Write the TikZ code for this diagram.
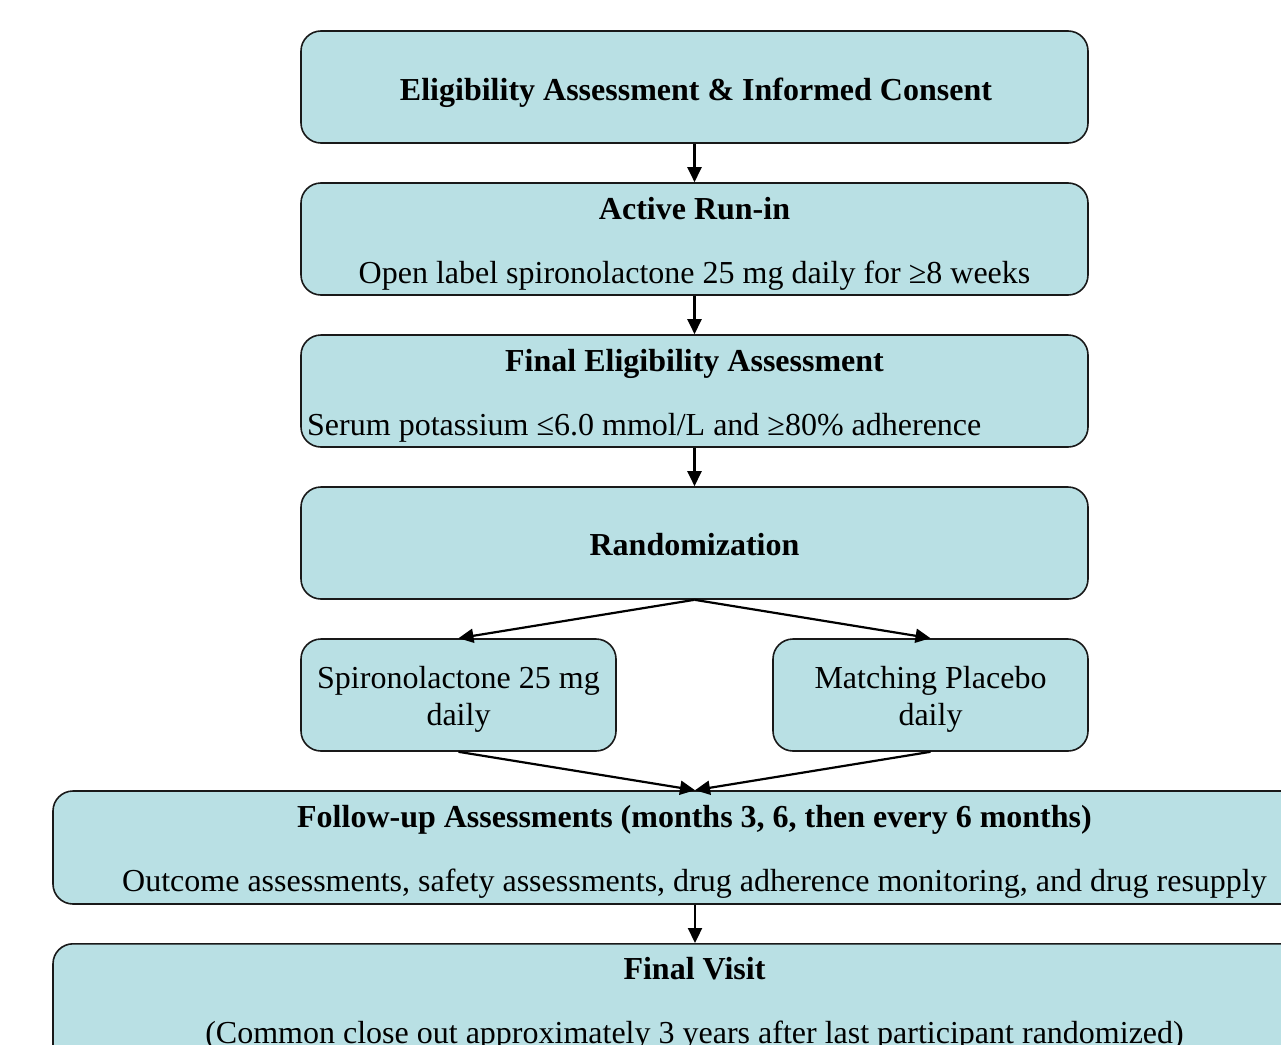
\documentclass[tikz,border=0pt]{standalone}
\usepackage{fontspec}
\setmainfont{Liberation Serif}
\usetikzlibrary{arrows.meta}
\definecolor{boxfill}{RGB}{185,224,228}
\begin{document}
\begin{tikzpicture}[x=1pt,y=1pt,
  flowbox/.style={draw=black!90, line width=1.6pt, fill=boxfill, rounded corners=20pt,
    minimum height=112pt, inner sep=0pt},
  txt/.style={anchor=base, inner sep=0pt, font=\fontsize{32pt}{37pt}\selectfont},
  btxt/.style={txt, font=\fontsize{32pt}{37pt}\selectfont\bfseries},
  arr/.style={line width=2.2pt, -{Triangle[length=15pt,width=14pt]}}]
\clip (0,0) rectangle (1281,-1044);
\fill[white] (0,0) rectangle (1281,-1044);

% boxes
\node[flowbox, minimum width=787pt] (b1) at (694.5,-87) {};
\node[flowbox, minimum width=787pt] (b2) at (694.5,-239) {};
\node[flowbox, minimum width=787pt] (b3) at (694.5,-391) {};
\node[flowbox, minimum width=787pt] (b4) at (694.5,-543) {};
\node[flowbox, minimum width=315pt] (bl) at (458.5,-695) {};
\node[flowbox, minimum width=315pt] (br) at (930.5,-695) {};
\node[flowbox, minimum width=1284pt, minimum height=113pt] (bf) at (695,-847.5) {};
\node[flowbox, minimum width=1284pt, minimum height=150pt, anchor=north] (bfin) at (695,-943) {};

% texts
\node[btxt] (t1) at (696,-100) {Eligibility Assessment \& Informed Consent};
\node[btxt] (t2a) at (694.5,-219) {Active Run-in};
\node[txt] (t2b) at (694.5,-283.5) {Open label spironolactone 25 mg daily for ≥8 weeks};
\node[btxt] (t3a) at (694.5,-371) {Final Eligibility Assessment};
\node[txt, anchor=base west] (t3b) at (307,-435.5) {Serum potassium ≤6.0 mmol/L and ≥80\% adherence};
\node[btxt] (t4) at (694.5,-555) {Randomization};
\node[txt] (tl1) at (458.5,-688) {Spironolactone 25 mg};
\node[txt] (tl2) at (458.5,-725.5) {daily};
\node[txt] (tr1) at (930.5,-688) {Matching Placebo};
\node[txt] (tr2) at (930.5,-725.5) {daily};
\node[btxt] (tfa) at (694.5,-827) {Follow-up Assessments (months 3, 6, then every 6 months)};
\node[txt] (tfb) at (694.5,-891.5) {Outcome assessments, safety assessments, drug adherence monitoring, and drug resupply};
\node[btxt] (tga) at (694.5,-979) {Final Visit};
\node[txt] (tgb) at (694.5,-1043.5) {(Common close out approximately 3 years after last participant randomized)};

% connectors
\draw[arr] (b1.south) -- (b2.north);
\draw[arr] (b2.south) -- (b3.north);
\draw[arr] (b3.south) -- (b4.north);
\draw[arr] (b4.south) -- (bl.north);
\draw[arr] (b4.south) -- (br.north);
\draw[arr] (bl.south) -- (bf.north);
\draw[arr] (br.south) -- (bf.north);
\draw[arr] (bf.south) -- (bfin.north);
\end{tikzpicture}
\end{document}
